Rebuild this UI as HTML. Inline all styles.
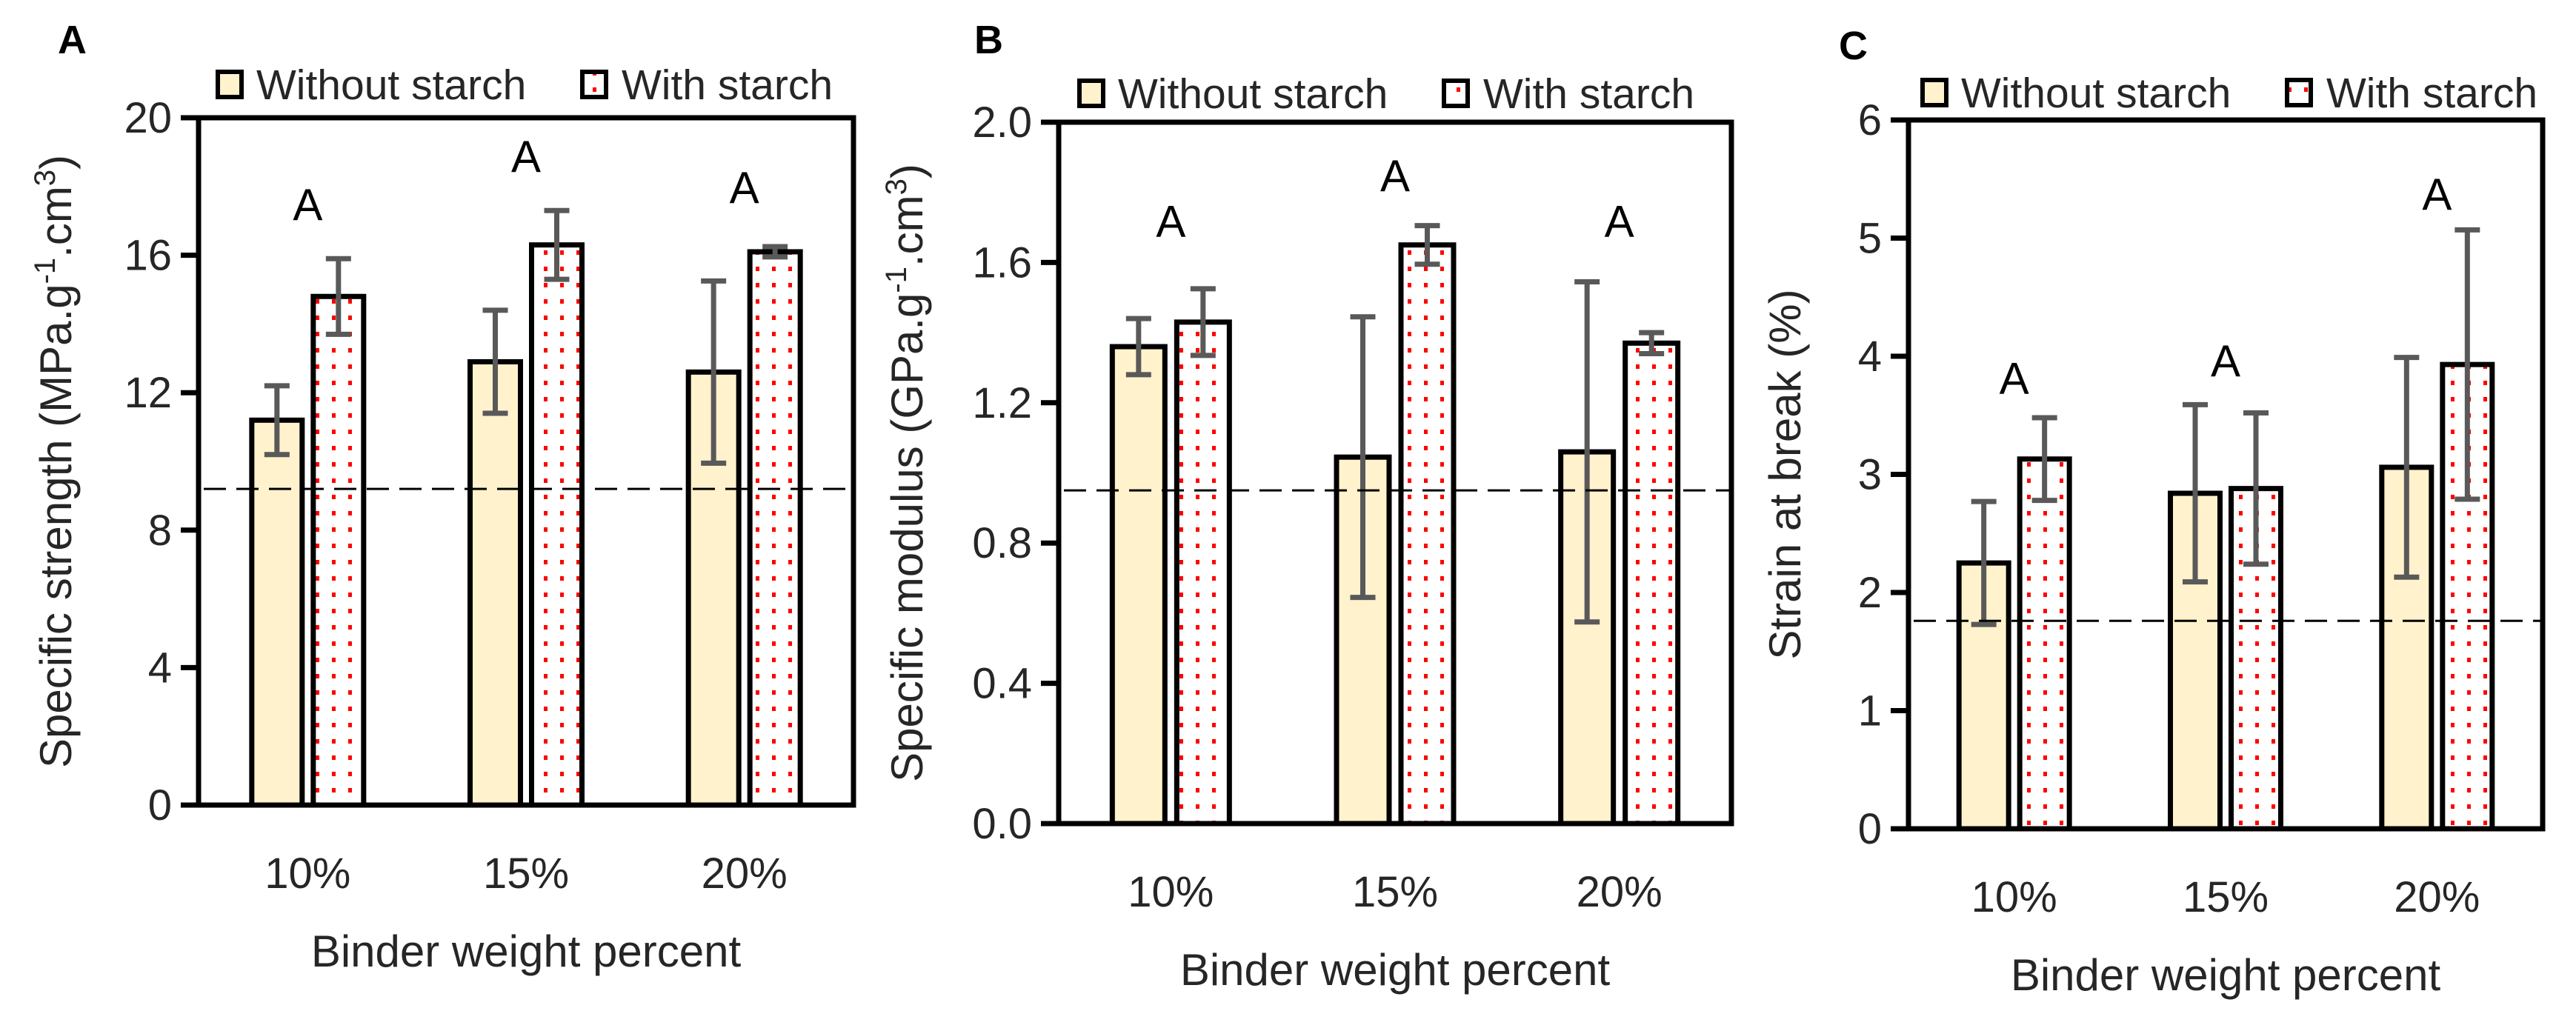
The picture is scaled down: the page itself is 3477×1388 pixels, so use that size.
<!DOCTYPE html>
<html><head><meta charset="utf-8"><style>
html,body{margin:0;padding:0;background:#fff;}
svg{display:block;font-family:"Liberation Sans",sans-serif;}
</style></head><body>
<svg id="fig" width="3477" height="1388" viewBox="0 0 3477 1388">
<defs>
<pattern id="dots" patternUnits="userSpaceOnUse" width="22" height="22">
<rect width="22" height="22" fill="#fff"/>
<rect x="8" y="8" width="5" height="6" fill="#ff0000"/>
</pattern>
</defs>
</svg>
<script>
// Panel A data
const categories = ['10%','15%','20%'];
const aWithout = [11.2, 12.9, 12.6];
const aWithoutErr = [1.0, 1.5, 2.65];
const aWith = [14.8, 16.3, 16.1];
const aWithErr = [1.1, 1.0, 0.15];
const aTicks = [0,4,8,12,16,20];
const aTickLabels = ['0','4','8','12','16','20'];
const aRef = 9.2;
const aLetterVals = [17.5, 18.9, 18.0];
// Panel B data
const bWithout = [1.36, 1.045, 1.06];
const bWithoutErr = [0.08, 0.40, 0.485];
const bWith = [1.43, 1.65, 1.37];
const bWithErr = [0.095, 0.055, 0.03];
const bTicks = [0,0.4,0.8,1.2,1.6,2.0];
const bTickLabels = ['0.0','0.4','0.8','1.2','1.6','2.0'];
const bRef = 0.95;
const bLetterVals = [1.72, 1.85, 1.72];
// Panel C data
const cWithout = [2.25, 2.84, 3.06];
const cWithoutErr = [0.52, 0.75, 0.93];
const cWith = [3.13, 2.88, 3.93];
const cWithErr = [0.35, 0.64, 1.14];
const cTicks = [0,1,2,3,4,5,6];
const cTickLabels = ['0','1','2','3','4','5','6'];
const cRef = 1.76;
const cLetterVals = [3.82, 3.97, 5.38];

const NS='http://www.w3.org/2000/svg';
const svg=document.getElementById('fig');
function mk(tag,attrs,parent,text){const e=document.createElementNS(NS,tag);for(const k in attrs)e.setAttribute(k,attrs[k]);if(text!==undefined)e.textContent=text;(parent||svg).appendChild(e);return e;}

function panel(cfg){
  const g=mk('g',{});
  
  
  const L=cfg.left,R=cfg.right,T=cfg.top,B=cfg.bottom;
  const max=cfg.ticks[cfg.ticks.length-1];
  const y=v=>B-(v/max)*(B-T);
  const groupW=(R-L)/3;
  const gx=i=>L+groupW*(i+0.5);
  const bw=cfg.bw, gap=cfg.gap;
  const fr=mk('rect',{x:L,y:T,width:R-L,height:B-T,fill:'none',stroke:'#000','stroke-width':7},g);
  
  
  cfg.ticks.forEach((t,i)=>{
    const tk=mk('line',{x1:L-24,x2:L,y1:y(t),y2:y(t),stroke:'#000','stroke-width':7},g);
    
    
    const tl=mk('text',{x:L-36,y:y(t)+20,'text-anchor':'end','font-size':58,fill:'#262626'},g,cfg.tickLabels[i]);
    
    
  });
  for(let i=0;i<3;i++){
    const c=gx(i);
    const x1=c-gap/2-bw, x2=c+gap/2;
    const b1=mk('rect',{x:x1,y:y(cfg.without[i]),width:bw,height:B-y(cfg.without[i]),fill:'#fff2cc',stroke:'#000','stroke-width':7},g);
    
    
    const b2=mk('rect',{x:x2,y:y(cfg.with[i]),width:bw,height:B-y(cfg.with[i]),fill:'url(#dots)',stroke:'#000','stroke-width':7},g);
    
    
    [[x1+bw/2,cfg.without[i],cfg.withoutErr[i]],[x2+bw/2,cfg.with[i],cfg.withErr[i]]].forEach(([cx,v,e])=>{
      const eg=mk('g',{stroke:'#595959','stroke-width':7},g);
      
      
      mk('line',{x1:cx,x2:cx,y1:y(v+e),y2:y(v-e)},eg);
      mk('line',{x1:cx-17,x2:cx+17,y1:y(v+e),y2:y(v+e)},eg);
      mk('line',{x1:cx-17,x2:cx+17,y1:y(v-e),y2:y(v-e)},eg);
    });
    const lt=mk('text',{x:c,y:y(cfg.letters[i])+22,'text-anchor':'middle','font-size':60,fill:'#000'},g,'A');
    
    
    const xl=mk('text',{x:c,y:B+112,'text-anchor':'middle','font-size':58,fill:'#262626'},g,categories[i]);
    
    
  }
  const rl=mk('line',{x1:cfg.refX1,x2:R,y1:y(cfg.ref),y2:y(cfg.ref),stroke:'#000','stroke-width':3,'stroke-dasharray':'30,14'},g);
  
  
  const xt=mk('text',{x:(L+R)/2,y:B+218,'text-anchor':'middle','font-size':60,fill:'#262626'},g,'Binder weight percent');
  
  
  const yt=mk('text',{x:0,y:0,'text-anchor':'middle','font-size':60,fill:'#262626',transform:`translate(${cfg.ytX},${(T+B)/2+cfg.ytDy}) rotate(-90)`},g);
  
  
  if(cfg.unit){
    yt.appendChild(document.createTextNode(cfg.ytitle+' ('+cfg.unit+'.g'));
    mk('tspan',{dy:-22,'font-size':40},yt,'-1');
    mk('tspan',{dy:22},yt,'.cm');
    mk('tspan',{dy:-22,'font-size':40},yt,'3');
    mk('tspan',{dy:22},yt,')');
  } else yt.textContent=cfg.ytitle;
  const pl=mk('text',{x:cfg.labX,y:cfg.labY,'font-size':54,'font-weight':'bold',fill:'#000'},g,cfg.id);
  
  
  const lg=mk('g',{},g);
  
  
  const ly=cfg.legY;
  const e1=mk('rect',{x:cfg.legX,y:ly-17,width:32,height:34,fill:'#fff2cc',stroke:'#000','stroke-width':6},lg);
  
  
  const t1=mk('text',{x:cfg.legX+52,y:ly+20,'font-size':57,fill:'#262626'},lg,'Without starch');
  
  
  const e2=mk('rect',{x:cfg.legX+492,y:ly-17,width:32,height:34,fill:'url(#dots)',stroke:'#000','stroke-width':6},lg);
  
  
  const t2=mk('text',{x:cfg.legX+545,y:ly+20,'font-size':57,fill:'#262626'},lg,'With starch');
  
  
}

panel({id:'A',left:268,right:1152,top:159,bottom:1087,bw:68,gap:15,without:aWithout,withoutErr:aWithoutErr,with:aWith,withErr:aWithErr,ticks:aTicks,tickLabels:aTickLabels,ref:aRef,refX1:275,letters:aLetterVals,ytitle:'Specific strength',unit:'MPa',ytX:96,ytDy:0,labX:78,labY:72,legX:294,legY:114});
panel({id:'B',left:1429,right:2337,top:165,bottom:1112,bw:71,gap:16,without:bWithout,withoutErr:bWithoutErr,with:bWith,withErr:bWithErr,ticks:bTicks,tickLabels:bTickLabels,ref:bRef,refX1:1436,letters:bLetterVals,ytitle:'Specific modulus',unit:'GPa',ytX:1245,ytDy:0,labX:1315,labY:72,legX:1457,legY:126});
panel({id:'C',left:2576,right:3432,top:162,bottom:1119,bw:67,gap:15,without:cWithout,withoutErr:cWithoutErr,with:cWith,withErr:cWithErr,ticks:cTicks,tickLabels:cTickLabels,ref:cRef,refX1:2583,letters:cLetterVals,ytitle:'Strain at break (%)',unit:null,ytX:2430,ytDy:0,labX:2482,labY:80,legX:2595,legY:125});
</script>
</body></html>
